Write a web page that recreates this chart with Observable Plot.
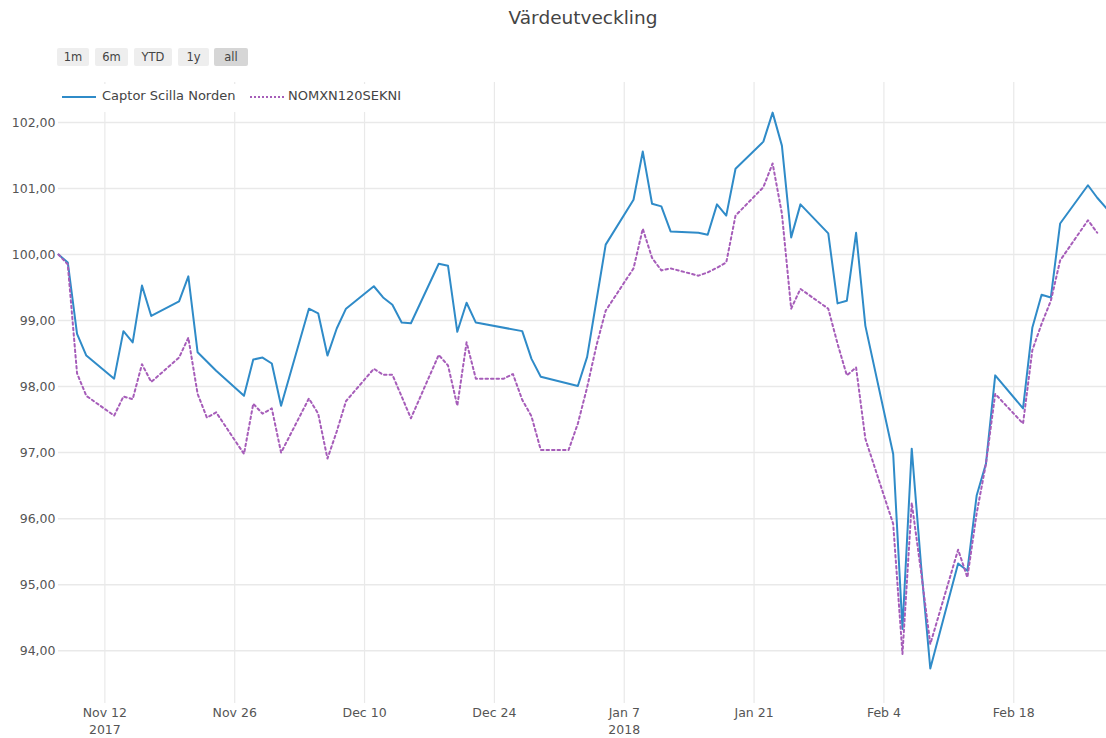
<!DOCTYPE html>
<html>
<head>
<meta charset="utf-8">
<script src="https://cdn.jsdelivr.net/npm/d3@7"></script>
<script src="https://cdn.jsdelivr.net/npm/@observablehq/plot@0.6"></script>
<style>
  body { margin: 0; background: #fff; }
  #wrap { position: relative; width: 1106px; height: 738px; overflow: hidden; font-family: "DejaVu Sans", Verdana, sans-serif; color: #444; }
  #title { position: absolute; top: 7px; left: 0; width: 1166px; text-align: center; font-size: 18.5px; color: #444; }
  .btn { position: absolute; top: 48px; height: 18px; line-height: 18px; background: #eeeeee; font-size: 11.5px; color: #444; text-align: center; border-radius: 2px; }
  .btn.on { background: #d6d6d6; }
  #legend { position: absolute; top: 84px; left: 56px; width: 356px; height: 28px; background: #fff; font-size: 13px; color: #444; }
  .li { position: absolute; top: 4px; white-space: nowrap; }
  .sw { position: absolute; width: 34px; height: 0; }
</style>
</head>
<body>
<div id="wrap">
  <div id="chart"></div>
  <div id="title">Värdeutveckling</div>
  <div class="btn" style="left:57px;width:32px">1m</div>
  <div class="btn" style="left:95px;width:33px">6m</div>
  <div class="btn" style="left:134px;width:38px">YTD</div>
  <div class="btn" style="left:178px;width:31px">1y</div>
  <div class="btn on" style="left:214px;width:34px">all</div>
  <div id="legend"></div>
</div>
<script>
// ---- data ----
const seriesNames = ["Captor Scilla Norden", "NOMXN120SEKNI"];
const dates = [
  "2017-11-07","2017-11-08","2017-11-09","2017-11-10","2017-11-13","2017-11-14","2017-11-15","2017-11-16","2017-11-17",
  "2017-11-20","2017-11-21","2017-11-22","2017-11-23","2017-11-24","2017-11-27","2017-11-28","2017-11-29","2017-11-30",
  "2017-12-01","2017-12-04","2017-12-05","2017-12-06","2017-12-07","2017-12-08","2017-12-11","2017-12-12","2017-12-13",
  "2017-12-14","2017-12-15","2017-12-18","2017-12-19","2017-12-20","2017-12-21","2017-12-22","2017-12-25","2017-12-26",
  "2017-12-27","2017-12-28","2017-12-29","2018-01-01","2018-01-02","2018-01-03","2018-01-04","2018-01-05","2018-01-08",
  "2018-01-09","2018-01-10","2018-01-11","2018-01-12","2018-01-15","2018-01-16","2018-01-17","2018-01-18","2018-01-19",
  "2018-01-22","2018-01-23","2018-01-24","2018-01-25","2018-01-26","2018-01-29","2018-01-30","2018-01-31","2018-02-01",
  "2018-02-02","2018-02-05","2018-02-06","2018-02-07","2018-02-08","2018-02-09","2018-02-12","2018-02-13","2018-02-14",
  "2018-02-15","2018-02-16","2018-02-19","2018-02-20","2018-02-21","2018-02-22","2018-02-23","2018-02-26","2018-02-27",
  "2018-02-28"
];
const fund = [
  100.00, 99.88, 98.80, 98.47, 98.12, 98.84, 98.67, 99.53, 99.07,
  99.29, 99.67, 98.52, 98.38, 98.24, 97.86, 98.41, 98.44, 98.35,
  97.71, 99.18, 99.11, 98.47, 98.88, 99.18, 99.52, 99.35, 99.24,
  98.97, 98.96, 99.86, 99.83, 98.83, 99.27, 98.97, null, null,
  98.84, 98.42, 98.15, null, 98.01, 98.45, 99.30, 100.15, 100.83,
  101.56, 100.77, 100.73, 100.35, 100.33, 100.30, 100.76, 100.59, 101.30,
  101.71, 102.15, 101.65, 100.26, 100.76, 100.32, 99.26, 99.30, 100.33,
  98.92, 96.98, 94.33, 97.06, 95.30, 93.73, 95.32, 95.21, 96.35,
  96.83, 98.17, 97.67, 98.89, 99.39, 99.35, 100.47, 101.05, 100.86,
  100.70
];
const bench = [
  100.00, 99.85, 98.20, 97.86, 97.56, 97.85, 97.81, 98.34, 98.07,
  98.44, 98.74, 97.89, 97.53, 97.61, 96.98, 97.74, 97.59, 97.67,
  97.00, 97.82, 97.59, 96.91, 97.32, 97.78, 98.27, 98.18, 98.18,
  97.85, 97.52, 98.48, 98.32, 97.71, 98.67, 98.12, 98.12, 98.19,
  97.80, 97.55, 97.04, 97.04, 97.44, 97.99, 98.62, 99.15, 99.79,
  100.39, 99.95, 99.76, 99.79, 99.68, 99.73, 99.80, 99.88, 100.59,
  101.02, 101.38, 100.62, 99.18, 99.48, 99.18, 98.65, 98.17, 98.29,
  97.21, 95.92, 93.95, 96.24, 95.20, 94.10, 95.53, 95.11, 96.08,
  96.83, 97.89, 97.44, 98.55, 98.95, 99.30, 99.91, 100.52, 100.33,
  null
];
const xTicks = ["2017-11-12","2017-11-26","2017-12-10","2017-12-24","2018-01-07","2018-01-21","2018-02-04","2018-02-18"];
const xTickLabels = ["Nov 12\n2017","Nov 26","Dec 10","Dec 24","Jan 7\n2018","Jan 21","Feb 4","Feb 18"];
const yTicks = [94, 95, 96, 97, 98, 99, 100, 101, 102];
const colors = ["#2f8bc8", "#a65db9"];

// ---- build ----
const parse = s => new Date(s + "T00:00:00Z");
const rows = dates.map((d, i) => ({date: parse(d), fund: fund[i], bench: bench[i]}));
const fundRows = rows.filter(r => r.fund != null);
const benchRows = rows.filter(r => r.bench != null);
const tickDates = xTicks.map(parse);
const labelOf = new Map(tickDates.map((d, i) => [+d, xTickLabels[i]]));

const chart = Plot.plot({
  width: 1106,
  height: 738,
  marginTop: 82,
  marginBottom: 35,
  marginLeft: 58,
  marginRight: 0,
  style: {fontFamily: "DejaVu Sans, Verdana, sans-serif", fontSize: "12.5px", color: "#444", background: "transparent"},
  x: {type: "utc", domain: [parse(dates[0]), parse(dates[dates.length - 1])]},
  y: {domain: [93.2, 102.606]},
  marks: [
    Plot.gridX(tickDates, {stroke: "#e9e9e9", strokeOpacity: 1, strokeWidth: 1.2}),
    Plot.gridY(yTicks, {stroke: "#e9e9e9", strokeOpacity: 1, strokeWidth: 1.5}),
    Plot.axisX(tickDates, {tickSize: 0, tickPadding: 1, label: null, lineHeight: 1.4, fill: "#555",
      tickFormat: d => labelOf.get(+d)}),
    Plot.axisY(yTicks, {tickSize: 0, tickPadding: 3, label: null, fill: "#555",
      tickFormat: d => d.toFixed(2).replace(".", ",")}),
    Plot.lineY(fundRows, {x: "date", y: "fund", stroke: colors[0], strokeWidth: 2}),
    Plot.lineY(benchRows, {x: "date", y: "bench", stroke: colors[1], strokeWidth: 2, strokeDasharray: "2.5,3"})
  ]
});
document.getElementById("chart").appendChild(chart);

// legend
const lg = document.getElementById("legend");
lg.innerHTML =
  `<div class="sw" style="left:6px;top:12px;border-top:2px solid ${colors[0]}"></div>` +
  `<div class="li" style="left:46px">${seriesNames[0]}</div>` +
  `<div class="sw" style="left:194px;top:12px;border-top:2px dotted ${colors[1]}"></div>` +
  `<div class="li" style="left:232px">${seriesNames[1]}</div>`;
</script>
</body>
</html>
